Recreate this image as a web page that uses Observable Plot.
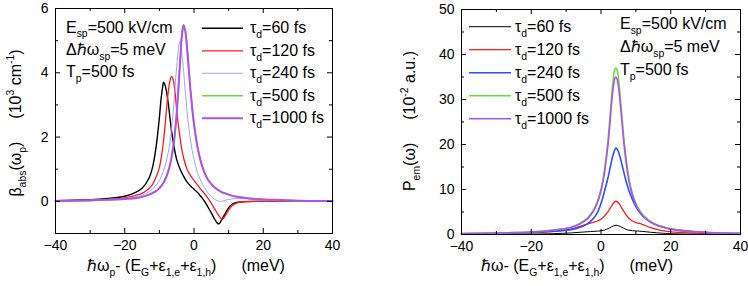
<!DOCTYPE html>
<html><head><meta charset="utf-8">
<script src="https://cdn.jsdelivr.net/npm/d3@7"></script>
<script src="https://cdn.jsdelivr.net/npm/@observablehq/plot@0.6"></script>
<style>
body{margin:0;background:#fff;}
#wrap{display:flex;width:748px;height:286px;}
svg text{font-family:"Liberation Sans",Arial,sans-serif;}
</style></head><body><div id="wrap"></div>
<script>
// ---------- tick values ----------
const xMajor = [-40, -20, 0, 20, 40];
const xMinor = [-30, -10, 10, 30];
const absYMajor = [0, 2, 4, 6];
const absYMinor = [-1, 1, 3, 5];
const emYMajor = [0, 10, 20, 30, 40, 50];
const emYMinor = [5, 15, 25, 35, 45];

// ---------- series names ----------
const seriesNames = ["60", "120", "240", "500", "1000"];

// ---------- left panel: absorption beta_abs (10^3 cm^-1) ----------
const absX60 = [-40,-30,-25,-20,-17,-15,-13,-12,-11,-10,-9.5,-9,-8.8,-8.5,-8,-7.5,-7,-6.5,-6,-5,-4,-3,-2,-1,0,1,2,3,4,5,6,7,7.5,8,9,10,11,12,14,17,20,30,40];
const absY60 = [0.02,0.05,0.09,0.16,0.27,0.41,0.72,1.05,1.65,2.6,3.2,3.6,3.71,3.66,3.45,3.1,2.65,2.2,1.85,1.3,1.0,0.78,0.6,0.48,0.38,0.28,0.15,0.01,-0.17,-0.36,-0.56,-0.70,-0.67,-0.57,-0.38,-0.2,-0.09,-0.04,-0.01,0,0,0,0];

const absX120 = [-40,-30,-25,-20,-17,-15,-13,-12,-11,-10,-9,-8.5,-8,-7.5,-7,-6.5,-6,-5.5,-5,-4.5,-4,-3.5,-3,-2,-1,0,1,2,3,4,5,6,7,8,8.5,9,10,11,12,13,15,18,25,40];
const absY120 = [0.02,0.04,0.06,0.11,0.18,0.25,0.4,0.52,0.74,1.05,1.7,2.2,2.8,3.35,3.72,3.89,3.78,3.4,2.85,2.35,1.95,1.6,1.35,1.0,0.8,0.65,0.52,0.37,0.24,0.1,-0.06,-0.24,-0.42,-0.55,-0.53,-0.45,-0.28,-0.14,-0.07,-0.03,-0.01,0,0,0];

const absX240 = [-40,-30,-25,-20,-17,-15,-13,-12,-11,-10,-9,-8,-7,-6.5,-6,-5.5,-5,-4.5,-4.1,-3.5,-3,-2.5,-2,-1.5,-1,0,1,2,3,4,5,6,7,7.6,8.5,10,12,14,17,20,25,30,40];
const absY240 = [0.01,0.03,0.05,0.08,0.13,0.19,0.3,0.38,0.5,0.65,0.9,1.25,1.8,2.25,2.8,3.5,4.2,4.75,4.98,4.6,4.05,3.4,2.8,2.3,1.9,1.3,0.9,0.63,0.43,0.27,0.15,0.06,0.01,-0.01,0.02,0.06,0.09,0.09,0.06,0.04,0.02,0.01,0];

const absX500 = [-40,-30,-25,-20,-17,-15,-13,-12,-11,-10,-9,-8,-7,-6,-5.5,-5,-4.5,-4,-3.5,-3,-2.5,-2,-1.5,-1,0,1,2,3,4,5,6,7,8,9,10,12,14,17,20,25,30,40];
const absY500 = [0.01,0.03,0.05,0.075,0.1,0.14,0.21,0.26,0.32,0.41,0.55,0.76,1.1,1.69,2.14,2.74,3.5,4.38,5.16,5.5,5.3,4.78,4.12,3.45,2.41,1.71,1.23,0.9,0.68,0.54,0.43,0.35,0.29,0.25,0.21,0.15,0.12,0.08,0.06,0.04,0.02,0.01];

const absX1000 = [-40,-30,-25,-20,-17,-15,-13,-12,-11,-10,-9,-8,-7,-6,-5.5,-5,-4.5,-4,-3.5,-3,-2.5,-2,-1.5,-1,0,1,2,3,4,5,6,7,8,9,10,12,14,17,20,25,30,40];
const absY1000 = [0.01,0.03,0.05,0.075,0.1,0.14,0.21,0.26,0.32,0.41,0.55,0.76,1.1,1.69,2.14,2.74,3.5,4.38,5.16,5.48,5.28,4.77,4.11,3.44,2.4,1.7,1.22,0.9,0.68,0.54,0.43,0.35,0.29,0.25,0.21,0.15,0.12,0.08,0.06,0.04,0.02,0.01];

// ---------- right panel: emission P_em (10^-2 a.u.) ----------
const emX = [-40,-30,-25,-20,-15,-10,-8,-6,-4,-3,-2,-1,0,1,2,2.5,3,3.5,4,4.3,4.6,5,5.5,6,6.5,7,8,9,10,11,12,14,16,18,20,25,30,35,40];
const emY60 = [0.0,0.02,0.05,0.08,0.15,0.3,0.38,0.5,0.6,0.65,0.7,0.75,0.82,1.0,1.3,1.5,1.7,1.88,2.0,2.05,2.02,1.95,1.78,1.6,1.4,1.2,0.95,0.85,0.8,0.75,0.68,0.52,0.38,0.26,0.18,0.08,0.04,0.02,0.0];
const emY120 = [0.1,0.2,0.28,0.4,0.6,1.0,1.3,1.8,2.3,2.55,2.75,3.0,3.4,4.1,5.1,5.7,6.3,6.9,7.3,7.4,7.3,7.05,6.5,5.8,5.2,4.6,3.6,3.0,2.65,2.45,2.2,1.6,1.15,0.8,0.6,0.35,0.22,0.15,0.1];
const emY240 = [0.15,0.25,0.32,0.45,0.65,0.95,1.2,1.6,2.3,2.9,3.7,4.9,6.9,9.6,12.6,14.4,16.2,17.8,18.9,19.2,19.0,18.4,17.1,15.6,14.0,12.4,9.8,7.8,6.2,5.0,4.1,2.9,2.1,1.6,1.2,0.7,0.45,0.3,0.2];
const emY500 = [0.2,0.35,0.45,0.6,0.9,1.4,1.8,2.5,3.6,4.5,5.7,7.5,10.2,14.5,21,25.5,30.5,34.5,36.8,37.0,36.6,34.8,31,26.5,22,18.3,12.6,9.2,7.0,5.5,4.4,3.0,2.2,1.7,1.3,0.8,0.5,0.35,0.25];
const emY1000 = [0.19,0.33,0.43,0.57,0.85,1.32,1.7,2.37,3.4,4.26,5.4,7.1,9.65,13.7,19.9,24.1,28.9,32.6,34.8,35.0,34.6,32.9,29.3,25.1,20.8,17.3,11.9,8.7,6.6,5.2,4.16,2.84,2.08,1.6,1.23,0.76,0.47,0.33,0.24];

// ---------- styles ----------
const absColors = ["#000000", "#ff1a1a", "#8c9cff", "#66e033", "#b050f0"];
const absWidths = [1.4, 1.3, 0.9, 1.5, 2.0];
const emColors  = ["#000000", "#ff1a1a", "#2a50ff", "#66e033", "#b050f0"];
const emWidths  = [1.0, 1.3, 1.6, 1.5, 1.6];

const rows = (xs, ys, s) => xs.map((x, i) => ({x, y: ys[i], s}));
const absData = [rows(absX60, absY60, "60"), rows(absX120, absY120, "120"), rows(absX240, absY240, "240"), rows(absX500, absY500, "500"), rows(absX1000, absY1000, "1000")];
const emData = [rows(emX, emY60, "60"), rows(emX, emY120, "120"), rows(emX, emY240, "240"), rows(emX, emY500, "500"), rows(emX, emY1000, "1000")];

const font = "Liberation Sans, Arial, sans-serif";

function panel({data, colors, widths, yDomain, yMajor, yMinor, mL, mR, mT, mB}) {
  const W = 374, H = 286;
  const fw = W - mL - mR, fh = H - mT - mB;
  const lines = data.map((d, i) => Plot.line(d, {x: "x", y: "y", stroke: colors[i], strokeWidth: widths[i], curve: "catmull-rom"}));
  const tk = (vals, len) => [
    Plot.tickX(vals, {x: d => d, insetTop: fh - len, stroke: "#000"}),
    Plot.tickX(vals, {x: d => d, insetBottom: fh - len, stroke: "#000"})
  ];
  const tky = (vals, len) => [
    Plot.tickY(vals, {y: d => d, insetRight: fw - len, stroke: "#000"}),
    Plot.tickY(vals, {y: d => d, insetLeft: fw - len, stroke: "#000"})
  ];
  return Plot.plot({
    width: W, height: H, marginLeft: mL, marginRight: mR, marginTop: mT, marginBottom: mB,
    x: {domain: [-40, 40]},
    y: {domain: yDomain},
    style: {fontFamily: font, fontSize: "14px", color: "#000", background: "#fff", overflow: "visible"},
    marks: [
      ...lines,
      Plot.frame({stroke: "#000", strokeWidth: 1}),
      ...tk(xMajor, 5), ...tk(xMinor, 3),
      ...tky(yMajor, 5), ...tky(yMinor, 3),
      Plot.axisX(xMajor, {tickSize: 0, tickPadding: 7, label: null, fontSize: 14}),
      Plot.axisY(yMajor, {tickSize: 0, tickPadding: 7, label: null, fontSize: 14})
    ]
  });
}

function rich(svg, x, y, parts, {size = 16, anchor = "start", rotate = 0} = {}) {
  const t = d3.select(svg).append("text")
    .attr("font-size", size).attr("text-anchor", anchor).attr("fill", "#000")
    .attr("font-family", font)
    .style("white-space", "pre")
    .attr("transform", `translate(${x},${y}) rotate(${rotate})`);
  let shift = 0;
  for (const p of parts) {
    const [str, mode, dx] = typeof p === "string" ? [p, null, 0] : p;
    const target = mode === "sub" ? 0.3 * size : mode === "sup" ? -0.42 * size : 0;
    const ts = t.append("tspan").text(str).attr("dy", target - shift);
    if (mode) ts.attr("font-size", size * 0.65);
    if (dx) ts.attr("dx", dx);
    shift = target;
  }
  return t;
}

function legend(svg, x0, x1, tx, y0, dy, colors, widths) {
  const g = d3.select(svg).append("g");
  seriesNames.forEach((n, i) => {
    const y = y0 + i * dy;
    g.append("line").attr("x1", x0).attr("x2", x1).attr("y1", y).attr("y2", y)
      .attr("stroke", colors[i]).attr("stroke-width", widths[i]);
    rich(svg, tx, y + 5, ["τ", ["d", "sub"], "=" + n + " fs"]);
  });
}

function annot(svg, x, y0, dy) {
  rich(svg, x, y0, ["E", ["sp", "sub"], "=500 kV/cm"]);
  rich(svg, x, y0 + dy, ["Δℏω", ["sp", "sub"], "=5 meV"]);
  rich(svg, x, y0 + 2 * dy, ["T", ["p", "sub"], "=500 fs"]);
}

const left = panel({data: absData, colors: absColors, widths: absWidths, yDomain: [-1, 6], yMajor: absYMajor, yMinor: absYMinor, mL: 55, mR: 42, mT: 8, mB: 53});
const right = panel({data: emData, colors: emColors, widths: emWidths, yDomain: [0, 50], yMajor: emYMajor, yMinor: emYMinor, mL: 87, mR: 8, mT: 9, mB: 52});

document.getElementById("wrap").append(left, right);

// left decorations
annot(left, 66, 32.5, 22.4);
legend(left, 202, 243, 250, 28.3, 22.5, absColors, absWidths);
rich(left, 186, 271, ["ℏω", ["p", "sub"], "- (E", ["G", "sub"], "+ε", ["1,e", "sub"], "+ε", ["1,h", "sub"], ")", ["(meV)", null, 25]], {anchor: "middle"});
rich(left, 21, 123, ["β", ["abs", "sub"], "(ω", ["p", "sub"], ")", ["(10", null, 23], ["3", "sup"], " cm", ["-1", "sup"], ")"], {anchor: "middle", rotate: -90});

// right decorations (in right svg's own coordinates)
annot(right, 620 - 374, 29, 23);
legend(right, 469 - 374, 511 - 374, 515 - 374, 26.7, 23, emColors, emWidths);
rich(right, 577 - 374, 271, ["ℏω- (E", ["G", "sub"], "+ε", ["1,e", "sub"], "+ε", ["1,h", "sub"], ")", ["(meV)", null, 25]], {anchor: "middle"});
rich(right, 415 - 374, 121, ["P", ["em", "sub"], "(ω)", ["(10", null, 23], ["-2", "sup"], " a.u.)"], {anchor: "middle", rotate: -90});
</script></body></html>
